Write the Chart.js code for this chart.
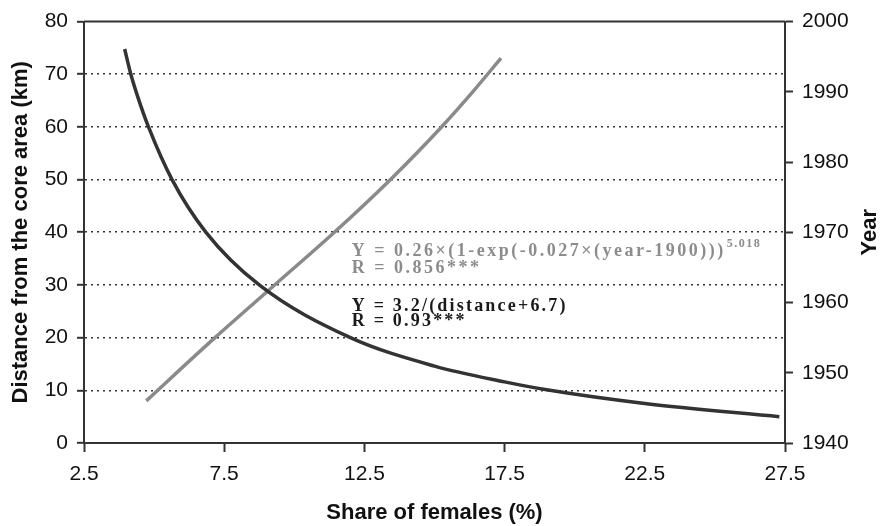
<!DOCTYPE html>
<html>
<head>
<meta charset="utf-8">
<script src="https://cdn.jsdelivr.net/npm/chart.js@4/dist/chart.umd.min.js"></script>
<style>
  body { margin: 0; background: #fff; }
  #wrap { width: 883px; height: 526px; }
</style>
</head>
<body>
<div id="wrap"><canvas id="chart" width="883" height="526"></canvas></div>
<script>
// distance curve (left axis): share of females (%) vs distance (km)
const distShare = [3.95, 4.17, 4.4, 4.8, 5.64, 6.85, 8.75, 12.0, 15.0, 17.5, 19.0, 22.5, 27.3];
const distKm = [74.8, 70, 66, 60, 50, 40, 30, 20, 14.6, 11.6, 10.1, 7.5, 5.0];

// year curve (right axis): share of females (%) vs year
const yearShare = [4.72, 7.17, 9.3, 11.43, 13.45, 15.25, 16.47, 17.37];
const years = [1946, 1955, 1962.5, 1970, 1977.6, 1985, 1990.5, 1994.8];

const xTicks = [2.5, 7.5, 12.5, 17.5, 22.5, 27.5];
const distTicks = [0, 10, 20, 30, 40, 50, 60, 70, 80];
const yearTicks = [1940, 1950, 1960, 1970, 1980, 1990, 2000];

const axisColor = '#333';
const sans = '"Liberation Sans", Arial, sans-serif';
const serif = '"Liberation Serif", "Times New Roman", serif';

const frame = {
  id: 'frame',
  afterDraw(chart) {
    const { ctx, chartArea } = chart;
    ctx.save();
    ctx.strokeStyle = axisColor;
    ctx.lineWidth = 2;
    ctx.beginPath();
    ctx.moveTo(chartArea.left, chartArea.top);
    ctx.lineTo(chartArea.right, chartArea.top);
    ctx.stroke();

    // right axis title, reading bottom to top
    ctx.font = 'bold 22px ' + sans;
    ctx.fillStyle = '#111';
    ctx.textAlign = 'center';
    ctx.textBaseline = 'middle';
    ctx.translate(870, (chartArea.top + chartArea.bottom) / 2);
    ctx.rotate(-Math.PI / 2);
    ctx.fillText('Year', 0, 0);
    ctx.restore();
  }
};

const notes = {
  id: 'notes',
  afterDatasetsDraw(chart) {
    const { ctx, scales } = chart;
    const x0 = scales.x.getPixelForValue(12.05);
    ctx.save();
    ctx.textAlign = 'left';
    ctx.textBaseline = 'alphabetic';
    ctx.font = 'bold 18px ' + serif;
    ctx.letterSpacing = '2.5px';

    ctx.fillStyle = '#8c8c8c';
    const line1 = 'Y = 0.26×(1-exp(-0.027×(year-1900)))';
    const yA = scales.y.getPixelForValue(35.56);
    ctx.fillText(line1, x0, yA);
    const w = ctx.measureText(line1).width;
    ctx.fillText('R = 0.856***', x0, scales.y.getPixelForValue(32.34));
    ctx.font = 'bold 12px ' + serif;
    ctx.letterSpacing = '1.5px';
    ctx.fillText('5.018', x0 + w + 1, yA - 9);

    ctx.font = 'bold 18px ' + serif;
    ctx.letterSpacing = '2.2px';
    ctx.fillStyle = '#1a1a1a';
    ctx.fillText('Y = 3.2/(distance+6.7)', x0, scales.y.getPixelForValue(25.15));
    ctx.fillText('R = 0.93***', x0, scales.y.getPixelForValue(22.13));
    ctx.restore();
  }
};

new Chart(document.getElementById('chart'), {
  type: 'line',
  data: {
    datasets: [
      {
        label: 'Distance',
        data: distShare.map((s, i) => ({ x: s, y: distKm[i] })),
        yAxisID: 'y',
        borderColor: '#333',
        borderWidth: 3.5,
        pointRadius: 0,
        cubicInterpolationMode: 'monotone',
        fill: false
      },
      {
        label: 'Year',
        data: yearShare.map((s, i) => ({ x: s, y: years[i] })),
        yAxisID: 'y1',
        borderColor: '#8a8a8a',
        borderWidth: 3.5,
        pointRadius: 0,
        cubicInterpolationMode: 'monotone',
        fill: false
      }
    ]
  },
  options: {
    responsive: false,
    animation: false,
    layout: { padding: { top: 20, left: 0, right: 0, bottom: 0 } },
    plugins: {
      legend: { display: false },
      tooltip: { enabled: false }
    },
    scales: {
      x: {
        type: 'linear',
        position: 'bottom',
        min: xTicks[0],
        max: xTicks[xTicks.length - 1],
        afterBuildTicks: s => { s.ticks = xTicks.map(v => ({ value: v })); },
        afterFit: s => { s.height = 83; },
        ticks: {
          font: { family: sans, size: 21 },
          color: '#111',
          padding: 10,
          maxRotation: 0,
          callback: v => v.toFixed(1)
        },
        grid: {
          drawOnChartArea: false,
          drawTicks: true,
          tickLength: 9,
          tickColor: axisColor,
          tickWidth: 2
        },
        border: { color: axisColor, width: 2 },
        title: {
          display: true,
          text: 'Share of females (%)',
          font: { family: sans, size: 22, weight: 'bold' },
          color: '#111',
          padding: { top: 0, bottom: 0 }
        }
      },
      y: {
        type: 'linear',
        position: 'left',
        min: distTicks[0],
        max: distTicks[distTicks.length - 1],
        afterBuildTicks: s => { s.ticks = distTicks.map(v => ({ value: v })); },
        afterFit: s => { s.width = 84; },
        ticks: {
          font: { family: sans, size: 21 },
          color: '#111',
          padding: 9
        },
        grid: {
          color: c => (c.tick && (c.tick.value === 0 || c.tick.value === 80)) ? 'rgba(0,0,0,0)' : '#333',
          lineWidth: 1.6,
          drawTicks: true,
          tickLength: 7,
          tickColor: axisColor,
          tickWidth: 2
        },
        border: { color: axisColor, width: 2, dash: [2, 4] },
        title: {
          display: true,
          text: 'Distance from the core area (km)',
          font: { family: sans, size: 22, weight: 'bold' },
          color: '#111',
          padding: { top: 8, bottom: 0 }
        }
      },
      y1: {
        type: 'linear',
        position: 'right',
        min: yearTicks[0],
        max: yearTicks[yearTicks.length - 1],
        afterBuildTicks: s => { s.ticks = yearTicks.map(v => ({ value: v })); },
        afterFit: s => { s.width = 98; },
        ticks: {
          font: { family: sans, size: 21 },
          color: '#111',
          padding: 9,
          callback: v => String(v)
        },
        grid: {
          drawOnChartArea: false,
          drawTicks: true,
          tickLength: 8,
          tickColor: axisColor,
          tickWidth: 2
        },
        border: { color: axisColor, width: 2 }
      }
    }
  },
  plugins: [frame, notes]
});
</script>
</body>
</html>
